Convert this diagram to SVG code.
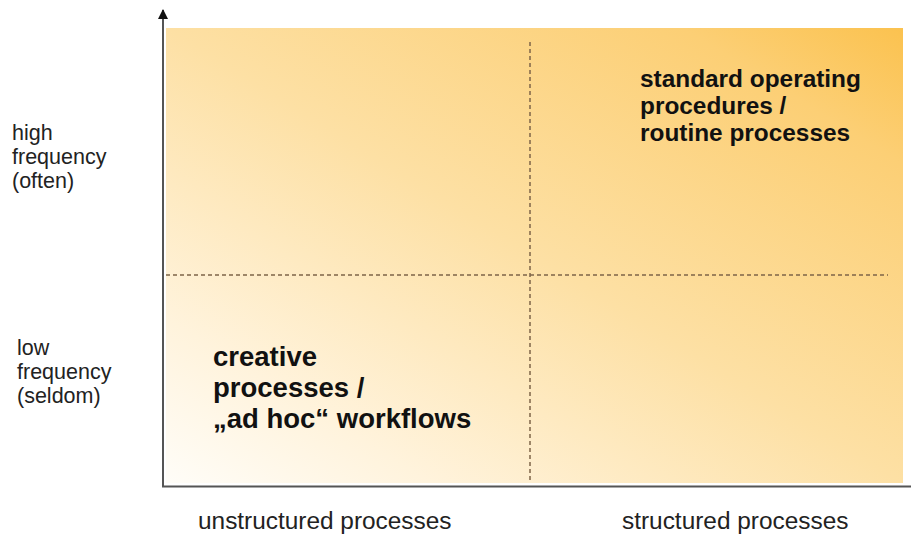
<svg xmlns="http://www.w3.org/2000/svg" width="911" height="535" viewBox="0 0 911 535">
  <style>
    .axis { stroke: #555555; stroke-width: 2; fill: none; }
    .dash { stroke: #7d6448; stroke-width: 1.5; stroke-dasharray: 4 3; fill: none; }
    .lbl { font-family: "Liberation Sans", Arial, sans-serif; fill: #222222; }
    .big { font-family: "Liberation Sans", Arial, sans-serif; font-weight: bold; fill: #111111; }
  </style>
  <defs>
    <linearGradient id="bg" x1="0" y1="1" x2="1" y2="0">
      <stop offset="0" stop-color="#fffdf8"/>
      <stop offset="0.18" stop-color="#fff3dc"/>
      <stop offset="0.5" stop-color="#fde0a4"/>
      <stop offset="0.85" stop-color="#fccf75"/>
      <stop offset="1" stop-color="#fbc24f"/>
    </linearGradient>
    <marker id="arr" viewBox="0 0 10 10" refX="9" refY="5" markerWidth="5" markerHeight="5" orient="auto-start-reverse" markerUnits="strokeWidth">
      <path d="M0,0 L10,5 L0,10 z" fill="#111111"/>
    </marker>
  </defs>

  <g id="field">
    <rect x="166" y="28" width="737" height="455" fill="url(#bg)"/>
  </g>

  <g id="connectors">
    <line class="dash" x1="530" y1="42" x2="530" y2="483"/>
    <line class="dash" x1="166" y1="275" x2="888" y2="275"/>
    <line class="axis" x1="163" y1="487" x2="163" y2="10" marker-end="url(#arr)"/>
    <line class="axis" x1="162" y1="486.5" x2="911" y2="486.5"/>
  </g>

  <g id="high-frequency">
    <text class="lbl" font-size="21.5"><tspan x="12" y="140">high</tspan><tspan x="12" y="164">frequency</tspan><tspan x="12" y="188">(often)</tspan></text>
  </g>
  <g id="low-frequency">
    <text class="lbl" font-size="21.5"><tspan x="17" y="355">low</tspan><tspan x="17" y="379">frequency</tspan><tspan x="17" y="403">(seldom)</tspan></text>
  </g>

  <g id="standard">
    <text class="big" font-size="24.4"><tspan x="640" y="87">standard operating</tspan><tspan x="640" y="114">procedures /</tspan><tspan x="640" y="141">routine processes</tspan></text>
  </g>
  <g id="creative">
    <text class="big" font-size="27.5"><tspan x="213" y="366">creative</tspan><tspan x="213" y="397">processes /</tspan><tspan x="213" y="428">„ad hoc“ workflows</tspan></text>
  </g>

  <g id="unstructured">
    <text class="lbl" font-size="24.4" x="198" y="529">unstructured processes</text>
  </g>
  <g id="structured">
    <text class="lbl" font-size="24.4" x="622" y="529">structured processes</text>
  </g>
</svg>
